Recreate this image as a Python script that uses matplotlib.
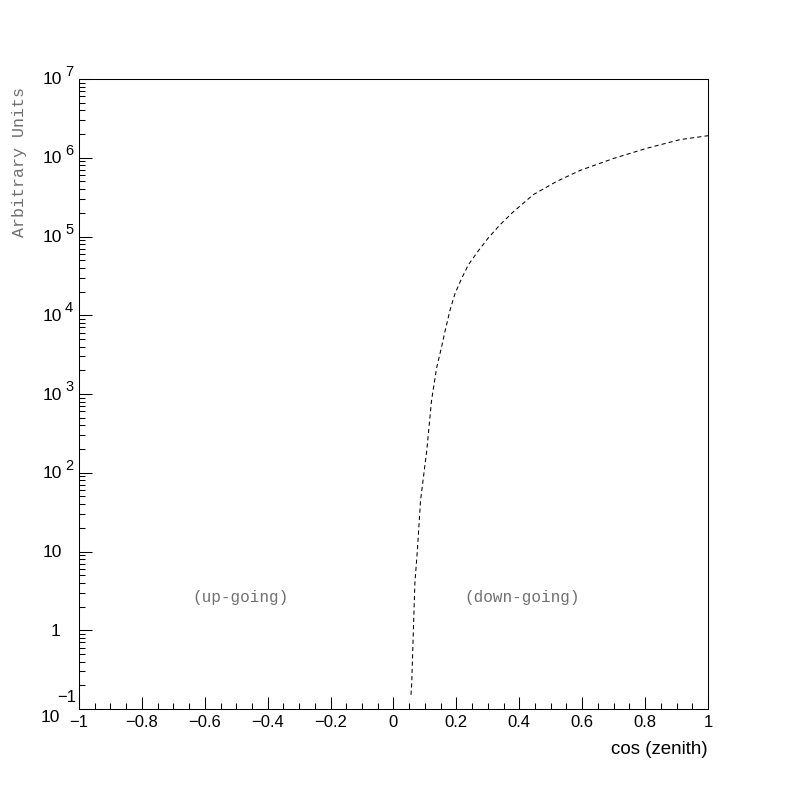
import numpy as np
import matplotlib
matplotlib.use("Agg")
import matplotlib.pyplot as plt
import matplotlib.transforms as mtransforms
from matplotlib.ticker import FixedLocator, LogLocator, MultipleLocator, NullFormatter

plt.rcParams['font.family'] = ['Liberation Sans', 'DejaVu Sans']

# curve: cos(zenith) vs log10(arbitrary units)
cos_zenith = [0.0556, 0.058, 0.063, 0.068, 0.076, 0.086, 0.106, 0.121, 0.137,
              0.153, 0.164, 0.180, 0.196, 0.217, 0.238, 0.270, 0.301, 0.339,
              0.380, 0.444, 0.519, 0.594, 0.699, 0.805, 0.911, 1.0]
log_units = [-0.82, -0.67, -0.03, 0.60, 1.02, 1.65, 2.29, 2.92, 3.33,
             3.60, 3.80, 4.07, 4.28, 4.47, 4.64, 4.82, 4.98, 5.15,
             5.31, 5.53, 5.70, 5.84, 5.99, 6.12, 6.23, 6.28]
units = [10 ** v for v in log_units]

# y tick labels as (base, exponent)
y_ticks = [1e-1, 1, 10, 1e2, 1e3, 1e4, 1e5, 1e6, 1e7]
y_bases = ['10', '1', '10', '10', '10', '10', '10', '10', '10']
y_exps = ['\u22121', '', '', '2', '3', '4', '5', '6', '7']
x_ticks = [-1, -0.8, -0.6, -0.4, -0.2, 0, 0.2, 0.4, 0.6, 0.8, 1]
x_labels = ['\u22121', '\u22120.8', '\u22120.6', '\u22120.4', '\u22120.2',
            '0', '0.2', '0.4', '0.6', '0.8', '1']

fig = plt.figure(figsize=(7.88, 7.88), dpi=100)
ax = fig.add_axes([79 / 788, 79 / 788, 629 / 788, 630 / 788])

line, = ax.plot(cos_zenith, units, color='black', lw=0.75)
line.set_dashes((4, 3))

ax.set_yscale('log')
ax.set_xlim(-1, 1)
ax.set_ylim(1e-1, 1e7)

ax.xaxis.set_major_locator(FixedLocator(x_ticks))
ax.set_xticklabels(x_labels)
ax.xaxis.set_minor_locator(MultipleLocator(0.05))
ax.yaxis.set_major_locator(FixedLocator(y_ticks))
ax.yaxis.set_major_formatter(NullFormatter())
ax.yaxis.set_minor_locator(LogLocator(base=10, subs=np.arange(2, 10), numticks=20))
ax.yaxis.set_minor_formatter(NullFormatter())

ax.tick_params(which='both', direction='in', top=False, right=False,
               width=0.75, color='black')
ax.tick_params(which='major', length=9)
ax.tick_params(which='minor', length=4.5)
ax.tick_params(axis='x', labelsize=12, pad=4)
for s in ax.spines.values():
    s.set_linewidth(0.75)

# y labels drawn by hand so the exponent sits up and right of the base, ROOT-like
ytrans = mtransforms.blended_transform_factory(ax.transAxes, ax.transData)
for val, base, ex in zip(y_ticks, y_bases, y_exps):
    bottom = val == y_ticks[0]
    if bottom:
        dx, dy = -19, -8
    elif base == '1':
        dx, dy = -19, -1
    else:
        dx, dy = -17, -1
    t = mtransforms.offset_copy(ytrans, fig=fig, x=dx, y=dy, units='dots')
    ax.text(0, val, base, transform=t, ha='right', va='center', fontsize=12.5)
    if ex:
        if bottom:
            t2 = mtransforms.offset_copy(ytrans, fig=fig, x=-22, y=11, units='dots')
            ax.text(0, val, ex, transform=t2, ha='left', va='center', fontsize=12)
        else:
            t2 = mtransforms.offset_copy(ytrans, fig=fig, x=-14, y=7, units='dots')
            ax.text(0, val, ex, transform=t2, ha='left', va='center', fontsize=10.5)

ax.set_xlabel('cos (zenith)', fontsize=13.5, loc='right', labelpad=8)
fig.text(20 / 788, 1 - 162 / 788, 'Arbitrary Units', rotation=90,
         ha='center', va='center', fontsize=12, color='#707070',
         family='Liberation Mono')

ax.text(-0.485, 2.6, '(up-going)', ha='center', va='center', fontsize=11.5,
        color='#707070', family='Liberation Mono')
ax.text(0.409, 2.6, '(down-going)', ha='center', va='center', fontsize=11.5,
        color='#707070', family='Liberation Mono')

fig.savefig('out.png', dpi=100)
